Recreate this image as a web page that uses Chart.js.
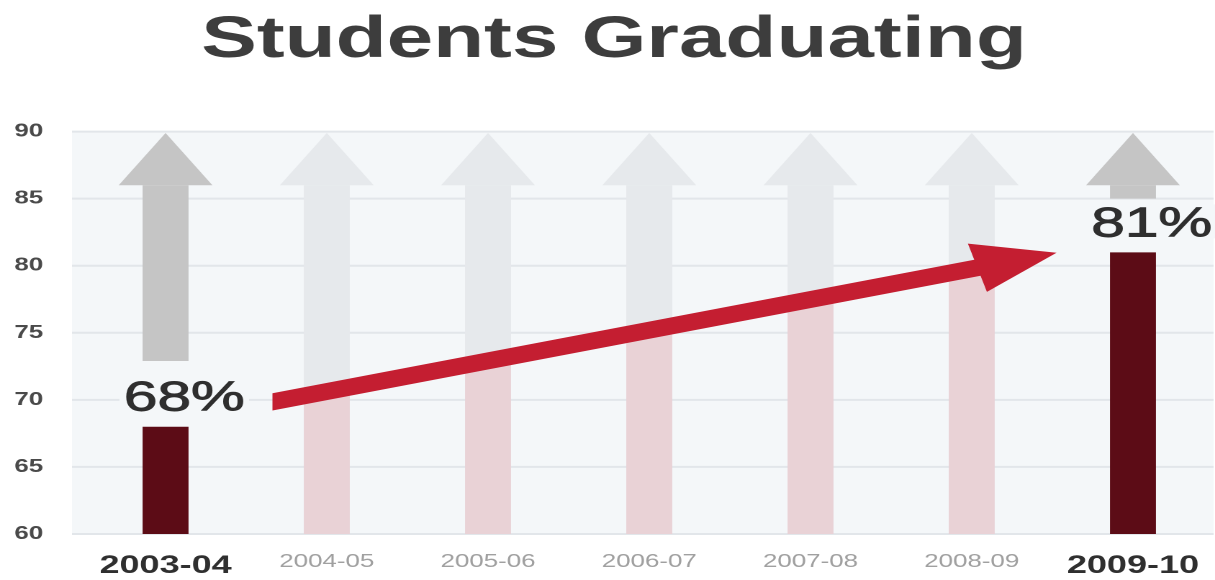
<!DOCTYPE html>
<html>
<head>
<meta charset="utf-8">
<title>Students Graduating</title>
<script src="https://cdn.jsdelivr.net/npm/chart.js@4.4.1/dist/chart.umd.min.js"></script>
<style>
  html, body { margin: 0; padding: 0; background: #fff; overflow: hidden; }
  /* the source picture is stretched sideways, so the chart is too */
  #wrap { width: 844px; height: 580px; transform: scaleX(1.4396); transform-origin: 0 0; }
  #chart { display: block; }
</style>
</head>
<body>
<div id="wrap"><canvas id="chart" width="844" height="580"></canvas></div>
<script>
// data
const categories = ["2003-04", "2004-05", "2005-06", "2006-07", "2007-08", "2008-09", "2009-10"];
const rates = [68, 70.5, 72.9, 75.2, 77.3, 79.5, 81];
const highlight = [true, false, false, false, false, false, true];
const valueLabels = ["68%", "", "", "", "", "", "81%"];
// grey "up" arrows behind each bar: shaft from shaftStart to shaftEnd, head up to headTop
const shaftStart = [72.9, 70.5, 72.9, 75.2, 77.3, 79.5, 85];
const shaftEnd = [86, 86, 86, 86, 86, 86, 86];
const headTop = [89.9, 89.9, 89.9, 89.9, 89.9, 89.9, 89.9];
const yTicks = [60, 65, 70, 75, 80, 85, 90];
// red trend arrow, in category index / value units
const trendFrom = [0.663, 69.85];
const trendTo = [5.526, 80.97];

const FONT = "'Liberation Sans', Arial, Helvetica, sans-serif";
const DARK = "#5c0c16";
const PINK = "#e9d2d6";
const GREY = "#c5c5c5";
const LIGHT_GREY = "#e6e9ec";
const RED = "#c41e31";
const PLOT_BG = "#f4f7f9";

const backdrop = {
  id: "backdrop",
  beforeDatasetsDraw(chart) {
    const { ctx, chartArea, scales } = chart;
    const left = chartArea.left - 9;
    ctx.save();
    ctx.fillStyle = PLOT_BG;
    ctx.fillRect(left, chartArea.top, chartArea.right - left, chartArea.bottom - chartArea.top);
    ctx.strokeStyle = "#e2e6ea";
    ctx.lineWidth = 2;
    yTicks.forEach(v => {
      const y = scales.y.getPixelForValue(v);
      ctx.beginPath();
      ctx.moveTo(left, y);
      ctx.lineTo(chartArea.right, y);
      ctx.stroke();
    });
    ctx.restore();
  }
};

const overlays = {
  id: "overlays",
  afterDatasetsDraw(chart) {
    const { ctx, scales } = chart;
    const shafts = chart.getDatasetMeta(1).data;
    ctx.save();

    // arrow heads
    shafts.forEach((bar, i) => {
      const half = bar.width * 1.02;
      const yb = scales.y.getPixelForValue(shaftEnd[i]);
      const yt = scales.y.getPixelForValue(headTop[i]);
      ctx.fillStyle = highlight[i] ? GREY : LIGHT_GREY;
      ctx.beginPath();
      ctx.moveTo(bar.x - half, yb);
      ctx.lineTo(bar.x, yt);
      ctx.lineTo(bar.x + half, yb);
      ctx.closePath();
      ctx.fill();
    });

    // trend arrow
    const x0 = scales.x.getPixelForValue(trendFrom[0]);
    const y0 = scales.y.getPixelForValue(trendFrom[1]);
    const x1 = scales.x.getPixelForValue(trendTo[0]);
    const y1 = scales.y.getPixelForValue(trendTo[1]);
    const len = Math.hypot(x1 - x0, y1 - y0);
    const ux = (x1 - x0) / len, uy = (y1 - y0) / len;
    const nx = -uy, ny = ux;
    const headLen = 57, headHalf = 25, shaftHalf = 8.3;
    const bx = x1 - ux * headLen, by = y1 - uy * headLen;
    ctx.fillStyle = RED;
    ctx.beginPath();
    ctx.moveTo(x0, y0 - shaftHalf / ux);
    ctx.lineTo(bx - nx * shaftHalf, by - ny * shaftHalf);
    ctx.lineTo(bx - nx * headHalf, by - ny * headHalf);
    ctx.lineTo(x1, y1);
    ctx.lineTo(bx + nx * headHalf, by + ny * headHalf);
    ctx.lineTo(bx + nx * shaftHalf, by + ny * shaftHalf);
    ctx.lineTo(x0, y0 + shaftHalf / ux);
    ctx.closePath();
    ctx.fill();

    // value labels, on a small patch of plot background
    const bars = chart.getDatasetMeta(0).data;
    ctx.font = "42px " + FONT;
    ctx.textAlign = "center";
    ctx.textBaseline = "alphabetic";
    bars.forEach((bar, i) => {
      if (!valueLabels[i]) return;
      const tx = bar.x + 13, ty = bar.y - 16;
      const w = ctx.measureText(valueLabels[i]).width;
      ctx.fillStyle = PLOT_BG;
      ctx.fillRect(tx - w / 2 - 3, ty - 32, w + 6, 34);
      ctx.fillStyle = "#2f2f2f";
      ctx.strokeStyle = "#2f2f2f";
      ctx.lineWidth = 0.9;
      ctx.fillText(valueLabels[i], tx, ty);
      ctx.strokeText(valueLabels[i], tx, ty);
    });
    ctx.restore();
  }
};

new Chart(document.getElementById("chart"), {
  type: "bar",
  data: {
    labels: categories,
    datasets: [
      {
        label: "Graduation rate",
        data: rates,
        backgroundColor: highlight.map(h => (h ? DARK : PINK)),
        order: 2
      },
      {
        label: "Arrow",
        data: shaftStart.map((s, i) => [s, shaftEnd[i]]),
        backgroundColor: highlight.map(h => (h ? GREY : LIGHT_GREY)),
        order: 1
      }
    ]
  },
  options: {
    responsive: false,
    devicePixelRatio: 2,
    animation: false,
    grouped: false,
    barPercentage: 0.285,
    categoryPercentage: 1,
    layout: { padding: { left: 10, right: 1, top: 0, bottom: 0 } },
    plugins: {
      legend: { display: false },
      tooltip: { enabled: false },
      title: {
        display: true,
        text: "Students Graduating",
        color: "#3d3d3d",
        font: { family: FONT, size: 58, weight: "bold", lineHeight: 1.2 },
        padding: { top: 6, bottom: 56 }
      }
    },
    scales: {
      x: {
        grid: { display: false, drawTicks: false },
        border: { display: false },
        afterFit: axis => {
          axis.height = 46;
          axis.paddingLeft = 0;
          axis.paddingRight = 0;
        },
        ticks: {
          padding: 17,
          color: ctx => (highlight[ctx.index] ? "#2f2f2f" : "#a0a0a0"),
          font: ctx => highlight[ctx.index]
            ? { family: FONT, size: 25, weight: "bold" }
            : { family: FONT, size: 18 }
        }
      },
      y: {
        min: 60,
        max: 90,
        afterBuildTicks: axis => { axis.ticks = yTicks.map(v => ({ value: v })); },
        afterFit: axis => { axis.width = 49; },
        grid: { display: false, drawTicks: false },
        border: { display: false },
        ticks: {
          padding: 29,
          color: "#4a4a4a",
          font: { family: FONT, size: 18, weight: "bold" }
        }
      }
    }
  },
  plugins: [backdrop, overlays]
});
</script>
</body>
</html>
